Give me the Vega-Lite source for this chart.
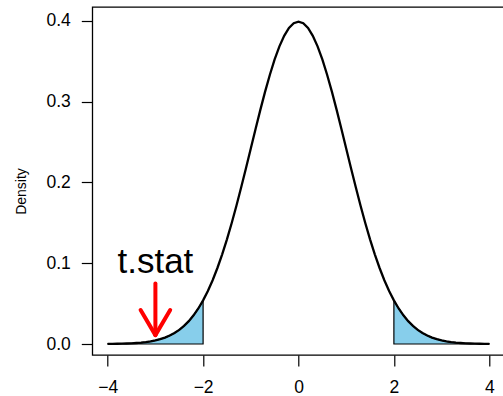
{
  "$schema": "https://vega.github.io/schema/vega-lite/v6.json",
  "autosize": {"type": "none"},
  "padding": {"left": 92.3, "top": 7, "right": 0, "bottom": 41},
  "width": 412.4,
  "height": 348,
  "config": {
    "font": "Liberation Sans",
    "view": {"stroke": "black", "strokeWidth": 1.3},
    "axis": {"grid": false, "domain": false, "tickColor": "black", "tickSize": 11, "tickWidth": 1.2, "labelColor": "black", "labelFontSize": 17.5, "labelFont": "Liberation Sans", "titleFont": "Liberation Sans", "titleColor": "black", "titleFontWeight": "normal"}
  },
  "datasets": {
    "curve": [
      {"x": -4.0, "d": 0.00013}, {"x": -3.9, "d": 0.00020}, {"x": -3.8, "d": 0.00029}, {"x": -3.7, "d": 0.00042}, {"x": -3.6, "d": 0.00061},
      {"x": -3.5, "d": 0.00087}, {"x": -3.4, "d": 0.00123}, {"x": -3.3, "d": 0.00172}, {"x": -3.2, "d": 0.00238}, {"x": -3.1, "d": 0.00327},
      {"x": -3.0, "d": 0.00443}, {"x": -2.9, "d": 0.00595}, {"x": -2.8, "d": 0.00792}, {"x": -2.7, "d": 0.01042}, {"x": -2.6, "d": 0.01358},
      {"x": -2.5, "d": 0.01753}, {"x": -2.4, "d": 0.02239}, {"x": -2.3, "d": 0.02833}, {"x": -2.2, "d": 0.03547}, {"x": -2.1, "d": 0.04398},
      {"x": -2.0, "d": 0.05399}, {"x": -1.9, "d": 0.06562}, {"x": -1.8, "d": 0.07895}, {"x": -1.7, "d": 0.09405}, {"x": -1.6, "d": 0.11092},
      {"x": -1.5, "d": 0.12952}, {"x": -1.4, "d": 0.14973}, {"x": -1.3, "d": 0.17137}, {"x": -1.2, "d": 0.19419}, {"x": -1.1, "d": 0.21785},
      {"x": -1.0, "d": 0.24197}, {"x": -0.9, "d": 0.26609}, {"x": -0.8, "d": 0.28969}, {"x": -0.7, "d": 0.31225}, {"x": -0.6, "d": 0.33322},
      {"x": -0.5, "d": 0.35207}, {"x": -0.4, "d": 0.36827}, {"x": -0.3, "d": 0.38139}, {"x": -0.2, "d": 0.39104}, {"x": -0.1, "d": 0.39695},
      {"x": 0.0, "d": 0.39894},
      {"x": 0.1, "d": 0.39695}, {"x": 0.2, "d": 0.39104}, {"x": 0.3, "d": 0.38139}, {"x": 0.4, "d": 0.36827}, {"x": 0.5, "d": 0.35207},
      {"x": 0.6, "d": 0.33322}, {"x": 0.7, "d": 0.31225}, {"x": 0.8, "d": 0.28969}, {"x": 0.9, "d": 0.26609}, {"x": 1.0, "d": 0.24197},
      {"x": 1.1, "d": 0.21785}, {"x": 1.2, "d": 0.19419}, {"x": 1.3, "d": 0.17137}, {"x": 1.4, "d": 0.14973}, {"x": 1.5, "d": 0.12952},
      {"x": 1.6, "d": 0.11092}, {"x": 1.7, "d": 0.09405}, {"x": 1.8, "d": 0.07895}, {"x": 1.9, "d": 0.06562}, {"x": 2.0, "d": 0.05399},
      {"x": 2.1, "d": 0.04398}, {"x": 2.2, "d": 0.03547}, {"x": 2.3, "d": 0.02833}, {"x": 2.4, "d": 0.02239}, {"x": 2.5, "d": 0.01753},
      {"x": 2.6, "d": 0.01358}, {"x": 2.7, "d": 0.01042}, {"x": 2.8, "d": 0.00792}, {"x": 2.9, "d": 0.00595}, {"x": 3.0, "d": 0.00443},
      {"x": 3.1, "d": 0.00327}, {"x": 3.2, "d": 0.00238}, {"x": 3.3, "d": 0.00172}, {"x": 3.4, "d": 0.00123}, {"x": 3.5, "d": 0.00087},
      {"x": 3.6, "d": 0.00061}, {"x": 3.7, "d": 0.00042}, {"x": 3.8, "d": 0.00029}, {"x": 3.9, "d": 0.00020}, {"x": 4.0, "d": 0.00013}
    ],
    "arrow": [
      {"x": -3, "y": 0.075, "x2": -3, "y2": 0.011},
      {"x": -3.31, "y": 0.042, "x2": -3, "y2": 0.011},
      {"x": -2.69, "y": 0.042, "x2": -3, "y2": 0.011}
    ],
    "label": [{"x": -3, "y": 0.0878, "text": "t.stat"}]
  },
  "layer": [
    {
      "data": {"name": "curve"},
      "transform": [{"filter": "datum.x <= -2"}],
      "mark": {"type": "area", "fill": "#87CEEB", "stroke": "black", "strokeWidth": 1.2},
      "encoding": {
        "x": {"field": "x", "type": "quantitative", "scale": {"domain": [-4.323, 4.323], "nice": false, "zero": false}, "axis": {"values": [-4, -2, 0, 2, 4], "title": null, "labelPadding": 13, "labelFlush": false}},
        "y": {"field": "d", "type": "quantitative", "scale": {"domain": [-0.0136, 0.417], "nice": false, "zero": false}, "axis": {"values": [0, 0.1, 0.2, 0.3, 0.4], "format": ".1f", "title": "Density", "titleFontSize": 14, "titlePadding": 17, "titleY": 184, "labelPadding": 11, "labelFlush": false}},
        "y2": {"datum": 0}
      }
    },
    {
      "data": {"name": "curve"},
      "transform": [{"filter": "datum.x >= 2"}],
      "mark": {"type": "area", "fill": "#87CEEB", "stroke": "black", "strokeWidth": 1.2},
      "encoding": {
        "x": {"field": "x", "type": "quantitative"},
        "y": {"field": "d", "type": "quantitative"},
        "y2": {"datum": 0}
      }
    },
    {
      "data": {"name": "curve"},
      "mark": {"type": "line", "color": "black", "strokeWidth": 2.3},
      "encoding": {
        "x": {"field": "x", "type": "quantitative"},
        "y": {"field": "d", "type": "quantitative"}
      }
    },
    {
      "data": {"name": "arrow"},
      "mark": {"type": "rule", "color": "#FF0000", "strokeWidth": 4, "strokeCap": "round"},
      "encoding": {
        "x": {"field": "x", "type": "quantitative"},
        "y": {"field": "y", "type": "quantitative"},
        "x2": {"field": "x2"},
        "y2": {"field": "y2"}
      }
    },
    {
      "data": {"name": "label"},
      "mark": {"type": "text", "fontSize": 35, "font": "Liberation Sans", "color": "black", "align": "center", "baseline": "alphabetic"},
      "encoding": {
        "x": {"field": "x", "type": "quantitative"},
        "y": {"field": "y", "type": "quantitative"},
        "text": {"field": "text"}
      }
    }
  ]
}
